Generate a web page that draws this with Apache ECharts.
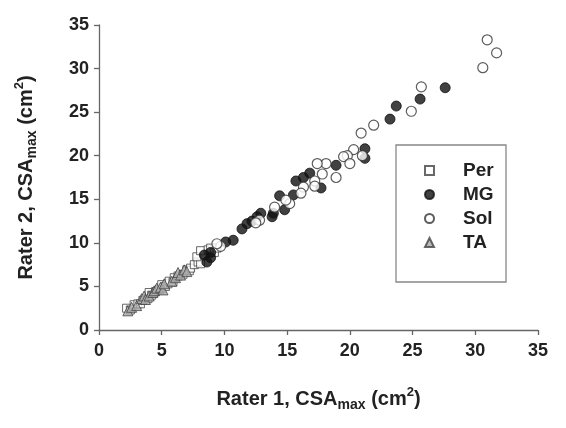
<!DOCTYPE html>
<html><head><meta charset="utf-8">
<script src="https://cdn.jsdelivr.net/npm/echarts@6/dist/echarts.min.js"></script>
<style>html,body{margin:0;padding:0;background:#fff}#c{width:566px;height:428px}</style>
</head><body><div id="c"></div>
<script>
var ticks = [0,5,10,15,20,25,30,35];
var seriesNames = ['Per','MG','Sol','TA'];
var perData = [[2.2,2.5],[2.5,2.3],[2.8,2.9],[3.1,3.0],[3.3,3.0],[3.5,3.4],[3.9,3.6],[4.0,4.3],[4.2,4.0],[4.5,4.4],[4.8,4.6],[5.0,5.2],[5.3,5.0],[5.5,5.3],[5.6,5.6],[5.9,5.5],[6.0,6.0],[6.3,6.2],[6.7,6.4],[7.0,6.9],[7.2,6.8],[7.3,7.1],[7.6,7.5],[7.9,7.8],[8.1,7.6],[7.8,8.4],[8.1,9.1],[8.7,9.2],[8.9,9.4],[9.2,8.9],[9.4,9.4]];
var mgData = [[27.6,27.8],[25.6,26.5],[23.7,25.7],[23.2,24.2],[21.2,20.8],[21.2,19.7],[18.9,18.9],[16.8,18.0],[16.3,17.5],[15.7,17.1],[17.7,16.3],[15.5,15.5],[14.4,15.4],[14.8,13.8],[13.9,13.4],[13.8,13.0],[12.9,13.4],[12.6,13.0],[12.2,12.5],[11.8,12.2],[11.4,11.6],[10.7,10.3],[10.1,10.1],[8.4,8.6],[8.9,8.9],[8.9,8.3],[8.6,7.8]];
var solData = [[30.95,33.3],[31.7,31.8],[30.6,30.1],[25.7,27.9],[24.9,25.1],[21.9,23.5],[20.9,22.6],[20.3,20.7],[19.8,20.0],[19.5,19.9],[21.0,20.0],[20.0,19.1],[18.1,19.1],[17.4,19.1],[17.8,17.9],[18.9,17.5],[17.2,17.1],[17.2,16.5],[16.3,16.4],[16.1,15.7],[15.2,14.5],[14.9,14.9],[14.0,14.1],[12.8,12.6],[12.5,12.3],[9.7,9.6],[9.4,9.9]];
var taData = [[2.3,2.2],[2.6,2.6],[3.0,2.8],[3.4,3.6],[3.6,3.9],[3.7,3.5],[4.0,3.9],[4.3,4.3],[4.4,4.5],[4.6,4.8],[4.9,4.9],[5.1,4.6],[5.2,5.3],[5.8,5.6],[6.1,6.0],[6.3,6.6],[6.5,6.3],[6.8,6.9],[7.0,6.7]];

var FONT = '"Liberation Sans", Arial, sans-serif';
var chart = echarts.init(document.getElementById('c'));
var rich = {
  a:{fontFamily:FONT,fontWeight:'bold',fontSize:20,color:'#222',lineHeight:26},
  b:{fontFamily:FONT,fontWeight:'bold',fontSize:14,color:'#222',verticalAlign:'bottom',lineHeight:26,padding:[8,0,0,0]},
  c:{fontFamily:FONT,fontWeight:'bold',fontSize:13,color:'#222',verticalAlign:'top',lineHeight:26,padding:[0,0,8,0]}
};
function axisCommon(){
  return {
    type:'value', min:0, max:35, interval:5,
    splitLine:{show:false},
    axisLine:{show:true,lineStyle:{color:'#666',width:1.3}},
    axisTick:{show:true,inside:false,length:5,lineStyle:{color:'#666',width:1.3}},
    axisLabel:{fontFamily:FONT,fontWeight:'bold',fontSize:18,color:'#222'},
    nameLocation:'middle',
    nameTextStyle:{rich:rich}
  };
}
var xAxis = axisCommon();
xAxis.name = '{a|Rater 1, CSA}{b|max}{a| (cm}{c|2}{a|)}';
xAxis.nameGap = 56;
xAxis.axisLabel.margin = 12;
var yAxis = axisCommon();
yAxis.name = '{a|Rater 2, CSA}{b|max}{a| (cm}{c|2}{a|)}';
yAxis.nameGap = 60;
yAxis.axisLabel.margin = 10;

chart.setOption({
  animation:false,
  backgroundColor:'#fff',
  grid:{left:99,right:28,top:25,bottom:98},
  xAxis:xAxis, yAxis:yAxis,
  legend:{
    orient:'vertical', left:419, top:156, itemGap:5, itemWidth:9, itemHeight:9,
    textStyle:{fontFamily:FONT,fontWeight:'bold',fontSize:19,color:'#222',padding:[0,0,0,24]},
    data:seriesNames
  },
  graphic:[{type:'rect',shape:{x:396,y:145,width:110,height:137},style:{fill:'none',stroke:'#888',lineWidth:1.3},z:10}],
  series:[
    {type:'scatter',name:'Per',data:perData,symbol:'rect',symbolSize:8,itemStyle:{color:'#fff',borderColor:'#444',borderWidth:1}},
    {type:'scatter',name:'MG',data:mgData,symbol:'circle',symbolSize:10,itemStyle:{color:'#111',borderColor:'#111',borderWidth:1}},
    {type:'scatter',name:'Sol',data:solData,symbol:'circle',symbolSize:10,itemStyle:{color:'#fff',borderColor:'#333',borderWidth:1.2}},
    {type:'scatter',name:'TA',data:taData,symbol:'triangle',symbolSize:10,itemStyle:{color:'#aaa',borderColor:'#444',borderWidth:1}}
  ]
});
</script></body></html>
